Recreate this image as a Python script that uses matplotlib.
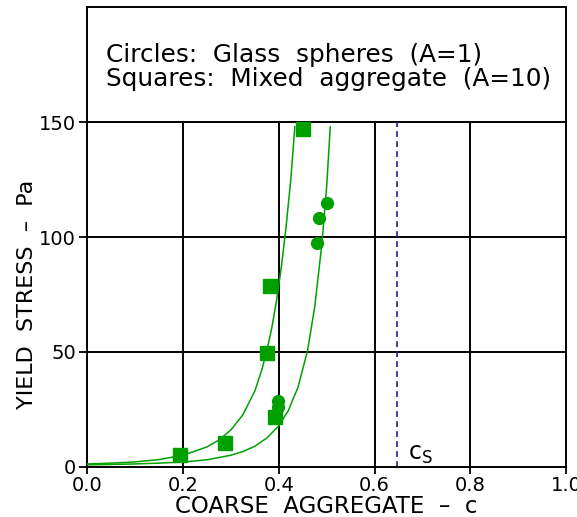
import numpy as np
import matplotlib
matplotlib.use("Agg")
import matplotlib.pyplot as plt

sq_c = [0.194, 0.288, 0.392, 0.376, 0.382, 0.450]
sq_tau = [5.1, 10.5, 21.8, 49.7, 78.9, 147.0]
circ_c = [0.399, 0.399, 0.480, 0.485, 0.500]
circ_tau = [28.8, 25.8, 97.3, 108.2, 115.0]

# fitted curves
fit10_c = [0.0, 0.05, 0.10, 0.15, 0.20, 0.25, 0.275, 0.30, 0.325, 0.35,
           0.365, 0.375, 0.385, 0.395, 0.405, 0.415, 0.425, 0.4335]
fit10_tau = [1.2, 1.55, 2.1, 3.1, 5.0, 8.6, 11.6, 16.0, 22.6, 33.0,
             42.5, 50.5, 60.0, 72.0, 86.5, 104.0, 125.0, 148.0]
fit1_c = [0.0, 0.05, 0.10, 0.15, 0.20, 0.25, 0.30, 0.325, 0.35, 0.375,
          0.40, 0.42, 0.44, 0.46, 0.475, 0.49, 0.50, 0.5075]
fit1_tau = [0.8, 0.98, 1.2, 1.55, 2.05, 3.0, 5.0, 6.6, 8.9, 12.5,
            17.8, 24.5, 34.5, 50.5, 69.5, 97.0, 122.0, 148.0]

c_s = 0.647
xticks = [0.0, 0.2, 0.4, 0.6, 0.8, 1.0]
yticks = [0, 50, 100, 150]

green = '#00a000'

fig = plt.figure(figsize=(5.77, 5.17), dpi=100)
ax = fig.add_axes([0.1513, 0.0973, 0.8297, 0.8882])

# grid only inside the 0-150 window
for x in xticks[1:-1]:
    ax.vlines(x, 0, 150, color='black', lw=1.4, zorder=1)
for y in yticks[1:]:
    ax.axhline(y, color='black', lw=1.4, zorder=1)

ax.vlines(c_s, 0, 150, color='#1c1c96', lw=1.2, linestyles=(0, (3.5, 2.5)), zorder=2)
ax.text(c_s + 0.022, 0.5, r'c$_\mathrm{S}$', fontsize=17, ha='left', va='bottom')

ax.plot(fit10_c, fit10_tau, color=green, lw=1.1, zorder=3)
ax.plot(fit1_c, fit1_tau, color=green, lw=1.1, zorder=3)
ax.plot(sq_c, sq_tau, 's', color=green, ms=9.5, mec=green, zorder=4)
ax.plot(circ_c, circ_tau, 'o', color=green, ms=8.5, mec=green, zorder=4)

ax.text(0.04, 179.4, 'Circles:  Glass  spheres  (A=1)', fontsize=17.8, va='center')
ax.text(0.04, 169.0, 'Squares:  Mixed  aggregate  (A=10)', fontsize=17.8, va='center')

ax.set_xlim(0, 1)
ax.set_ylim(0, 200)
ax.set_xticks(xticks)
ax.set_xticklabels([f'{x:.1f}' for x in xticks])
ax.set_yticks(yticks)
ax.tick_params(axis='both', direction='out', length=6, width=1.3, labelsize=14, pad=2)
ax.tick_params(axis='x', length=5, pad=2)
for sp in ax.spines.values():
    sp.set_linewidth(1.4)

ax.set_xlabel('COARSE  AGGREGATE  \u2013  c', fontsize=16.5)
ax.xaxis.label.set_va('baseline')
ax.xaxis.set_label_coords(0.5, -0.1005)
ax.set_ylabel('YIELD  STRESS  \u2013  Pa', fontsize=16)
ax.yaxis.set_label_coords(-0.105, 0.375)

fig.savefig('out.png', dpi=100)
